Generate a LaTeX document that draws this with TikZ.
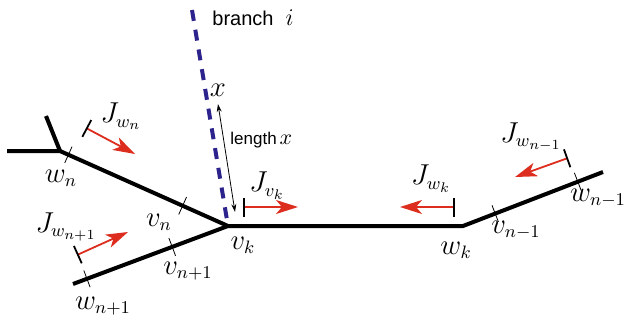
\documentclass[tikz,border=0pt]{standalone}
\usepackage{fontspec}
\newfontfamily\helv{Liberation Sans}
\usetikzlibrary{arrows.meta}
\definecolor{branchblue}{RGB}{45,35,140}
\definecolor{fluxred}{RGB}{220,45,30}
\tikzset{
  edge/.style={line width=2pt, line join=round},
  branch/.style={line width=2pt, branchblue, dash pattern=on 5.5pt off 4.5pt},
  tickmark/.style={sloped, inner sep=0pt, minimum width=0pt, minimum height=8.5pt,
    append after command={[line width=1pt] (\tikzlastnode.north) edge (\tikzlastnode.south)}},
  flux/.style={fluxred, line width=0.9pt,
    {Bar[color=black, width=9.5pt]}-{Stealth[length=11pt, width=7pt, inset=3pt]}},
  lengtharrow/.style={line width=0.4pt, {Stealth[length=4pt, width=2.5pt]}-{Stealth[length=4pt, width=2.5pt]}},
  lbl/.style={inner sep=0pt, font=\fontsize{13.5}{16}\selectfont},
  sanslbl/.style={inner sep=0pt, anchor=west, font=\helv\fontsize{10}{12}\selectfont}
}

\begin{document}
\begin{tikzpicture}[x=0.5pt, y=-0.5pt]
  \useasboundingbox (0,0) rectangle (625,321);

  \coordinate (leftend) at (7,151);
  \coordinate (wn) at (60,151);
  \coordinate (wnstub) at (46,116);
  \coordinate (vk) at (228,226);
  \coordinate (wnp) at (73,284);
  \coordinate (wk) at (463,226);
  \coordinate (rightend) at (603,172);
  \coordinate (btop) at (192,10);

  \draw[edge] (leftend) -- (wn) -- (vk) -- (wk) -- (rightend);
  \draw[edge] (wnstub) -- (wn);
  \draw[edge] (wnp) -- (vk);
  \draw[branch] (btop) -- (vk);

  \path (wn) -- (vk) node[tickmark, pos=0.05] (twn) {} node[tickmark, pos=0.73] (tvn) {};
  \path (wnp) -- (vk) node[tickmark, pos=0.09] (twnp) {} node[tickmark, pos=0.64] (tvnp) {};
  \path (wk) -- (rightend) node[tickmark, pos=0.23] (tvnm) {} node[tickmark, pos=0.82] (twnm) {};

  \coordinate (jwn0) at (86,128);
  \coordinate (jwn1) at (135,154);
  \coordinate (jwnp0) at (77,255);
  \coordinate (jwnp1) at (128,232);
  \coordinate (jvk0) at (243,207);
  \coordinate (jvk1) at (298,207);
  \coordinate (jwk0) at (455,207);
  \coordinate (jwk1) at (400,207);
  \coordinate (jwnm0) at (568,158);
  \coordinate (jwnm1) at (515,177);

  \draw[flux] (jwn0) -- (jwn1);
  \draw[flux] (jwnp0) -- (jwnp1);
  \draw[flux] (jvk0) -- (jvk1);
  \draw[flux] (jwk0) -- (jwk1);
  \draw[flux] (jwnm0) -- (jwnm1);

  \coordinate (len0) at (218,104);
  \coordinate (len1) at (235,212);
  \draw[lengtharrow] (len0) -- (len1);

  \node[lbl] (lwn) at (61,178) {$w_n$};
  \node[lbl] (lJwn) at (121,116) {$J_{w_n}$};
  \node[lbl] (lJwnp) at (66,227) {$J_{w_{n+1}}$};
  \node[lbl] (lvn) at (159,222) {$v_n$};
  \node[lbl] (lvnp) at (188,271) {$v_{n+1}$};
  \node[lbl] (lwnp) at (103,306) {$w_{n+1}$};
  \node[lbl] (lvk) at (243,245) {$v_k$};
  \node[lbl] (lJvk) at (267,186) {$J_{v_k}$};
  \node[lbl] (lJwk) at (431,179) {$J_{w_k}$};
  \node[lbl] (lwk) at (456,250) {$w_k$};
  \node[lbl] (lvnm) at (516,230) {$v_{n-1}$};
  \node[lbl] (lwnm) at (598,198) {$w_{n-1}$};
  \node[lbl] (lJwnm) at (531,137) {$J_{w_{n-1}}$};
  \node[lbl] (lx) at (218,90) {$x$};
  \node[sanslbl, font=\helv\fontsize{8.5}{10}\selectfont] (llen) at (230,140) {length\,{\fontsize{11}{13}\selectfont$x$}};
  \node[sanslbl] (lbranch) at (212,18) {branch\hspace{6pt}{\fontsize{13}{15}\selectfont$i$}};
\end{tikzpicture}
\end{document}
